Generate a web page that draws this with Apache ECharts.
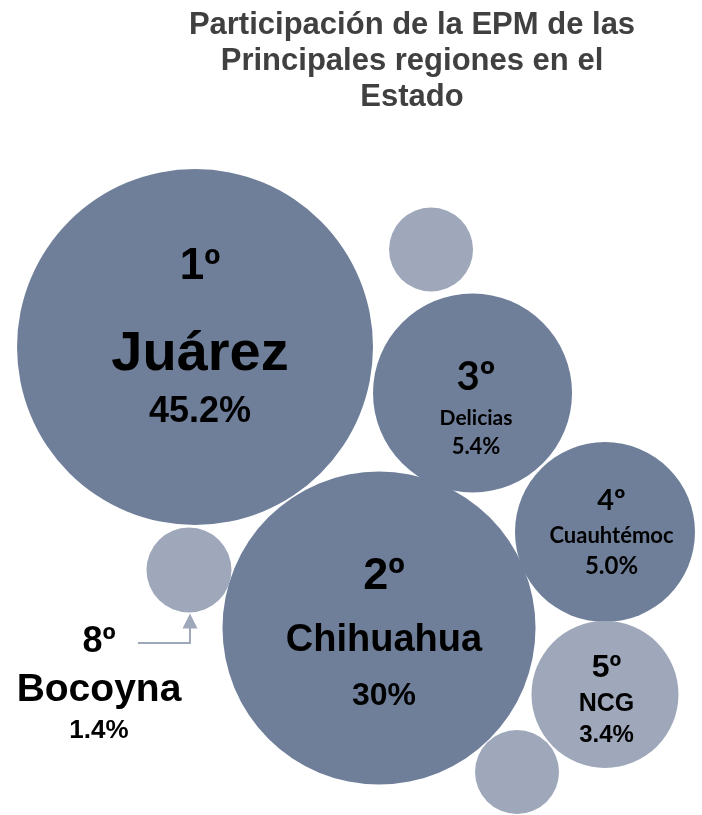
<!DOCTYPE html>
<html>
<head>
<meta charset="utf-8">
<script src="https://cdn.jsdelivr.net/npm/echarts@6/dist/echarts.min.js"></script>
<style>
html,body{margin:0;padding:0;background:#fff;}
#chart{width:702px;height:815px;}
</style>
</head>
<body>
<div id="chart"></div>
<script>
// ---- data ----
const titleText = 'Participación de la EPM de las\nPrincipales regiones en el\nEstado';
const ranks = ['1º', '2º', '3º', '4º', '5º', '6º', '7º', '8º'];
const regions = ['Juárez', 'Chihuahua', 'Delicias', 'Cuauhtémoc', 'NCG', '', '', 'Bocoyna'];
const shareLabels = ['45.2%', '30%', '5.4%', '5.0%', '3.4%', '', '', '1.4%'];
// bubble layout (packed-bubble coordinates, 0-100 units) and bubble diameters
const bubbleX = [27.78, 53.99, 67.31, 86.18, 86.18, 61.40, 73.65, 26.92];
const bubbleY = [57.42, 22.94, 51.78, 34.72, 14.79, 69.39, 5.28, 30.06];
const bubbleSize = [50.71, 44.59, 28.35, 25.64, 20.94, 11.97, 11.97, 12.11];
const bubbleTone = ['dark', 'dark', 'dark', 'dark', 'light', 'light', 'light', 'light'];

// ---- styles ----
const colors = { dark: '#6f7f9a', light: '#9ea8ba' };
const ARIAL = '"Liberation Sans", Arial, sans-serif';
const CALI = 'Lato, "Open Sans", sans-serif';
const labelStyles = [
  { off: [5, -23.5], font: ARIAL, r: [44, 117], n: [56, 60], p: [36, 54] },
  { off: [5, 4.5], font: ARIAL, r: [45, 78], n: [38, 50], p: [32, 62] },
  { off: [3.5, 13.5], font: CALI, r: [40, 55], n: [21, 26], p: [22, 32] },
  { off: [6.5, 0], font: CALI, r: [29, 39], n: [22, 30], p: [24, 32] },
  { off: [1.5, 5], font: ARIAL, r: [32, 41], n: [25, 30], p: [24, 32] },
  null,
  null,
  { off: [-90, 112.5], font: ARIAL, r: [36, 56], n: [39, 40], p: [26, 41] }
];

const chart = echarts.init(document.getElementById('chart'), null, { renderer: 'canvas' });
const unitPx = 702 / 100;

function tok(font, fs) {
  return { fontFamily: font, fontWeight: 'bold', fontSize: fs[0], lineHeight: fs[1], color: '#000', align: 'center' };
}

const data = bubbleX.map((x, i) => {
  const st = labelStyles[i];
  const item = {
    value: [x, bubbleY[i], bubbleSize[i]],
    itemStyle: { color: colors[bubbleTone[i]], opacity: 1 }
  };
  if (st && regions[i]) {
    item.label = {
      show: true,
      position: 'inside',
      offset: st.off,
      formatter: '{r|' + ranks[i] + '}\n{n|' + regions[i] + '}\n{p|' + shareLabels[i] + '}',
      rich: { r: tok(st.font, st.r), n: tok(st.font, st.n), p: tok(st.font, st.p) }
    };
  } else {
    item.label = { show: false };
  }
  return item;
});

chart.setOption({
  animation: false,
  title: {
    text: titleText,
    left: 412,
    top: 7,
    padding: 0,
    textAlign: 'center',
    textStyle: { fontFamily: ARIAL, fontWeight: 'bold', fontSize: 31, lineHeight: 36, color: '#404040' }
  },
  grid: { left: 0, right: 0, top: 0, bottom: 0 },
  xAxis: { type: 'value', min: 0, max: 100, show: false },
  yAxis: { type: 'value', min: 0, max: 100, show: false },
  series: [{
    type: 'scatter',
    symbol: 'circle',
    symbolSize: v => v[2] * unitPx,
    itemStyle: { opacity: 1 },
    data: data,
    emphasis: { disabled: true },
    silent: true
  }]
});

// arrow pointing to Bocoyna bubble
const bi = 7;
const c = chart.convertToPixel({ gridIndex: 0 }, [bubbleX[bi], bubbleY[bi]]);
const r = bubbleSize[bi] * unitPx / 2;
const tipY = c[1] + r + 1;
const lineY = c[1] + 73;
const ax = c[0] + 1;
chart.setOption({
  graphic: [
    { type: 'polyline', shape: { points: [[c[0] - 51, lineY], [ax, lineY], [ax, tipY + 14]] },
      style: { stroke: '#9ea8ba', lineWidth: 2, fill: null } },
    { type: 'polygon', shape: { points: [[ax, tipY], [ax - 7.5, tipY + 15], [ax + 7.5, tipY + 15]] },
      style: { fill: '#9ea8ba' } }
  ]
});
</script>
</body>
</html>
